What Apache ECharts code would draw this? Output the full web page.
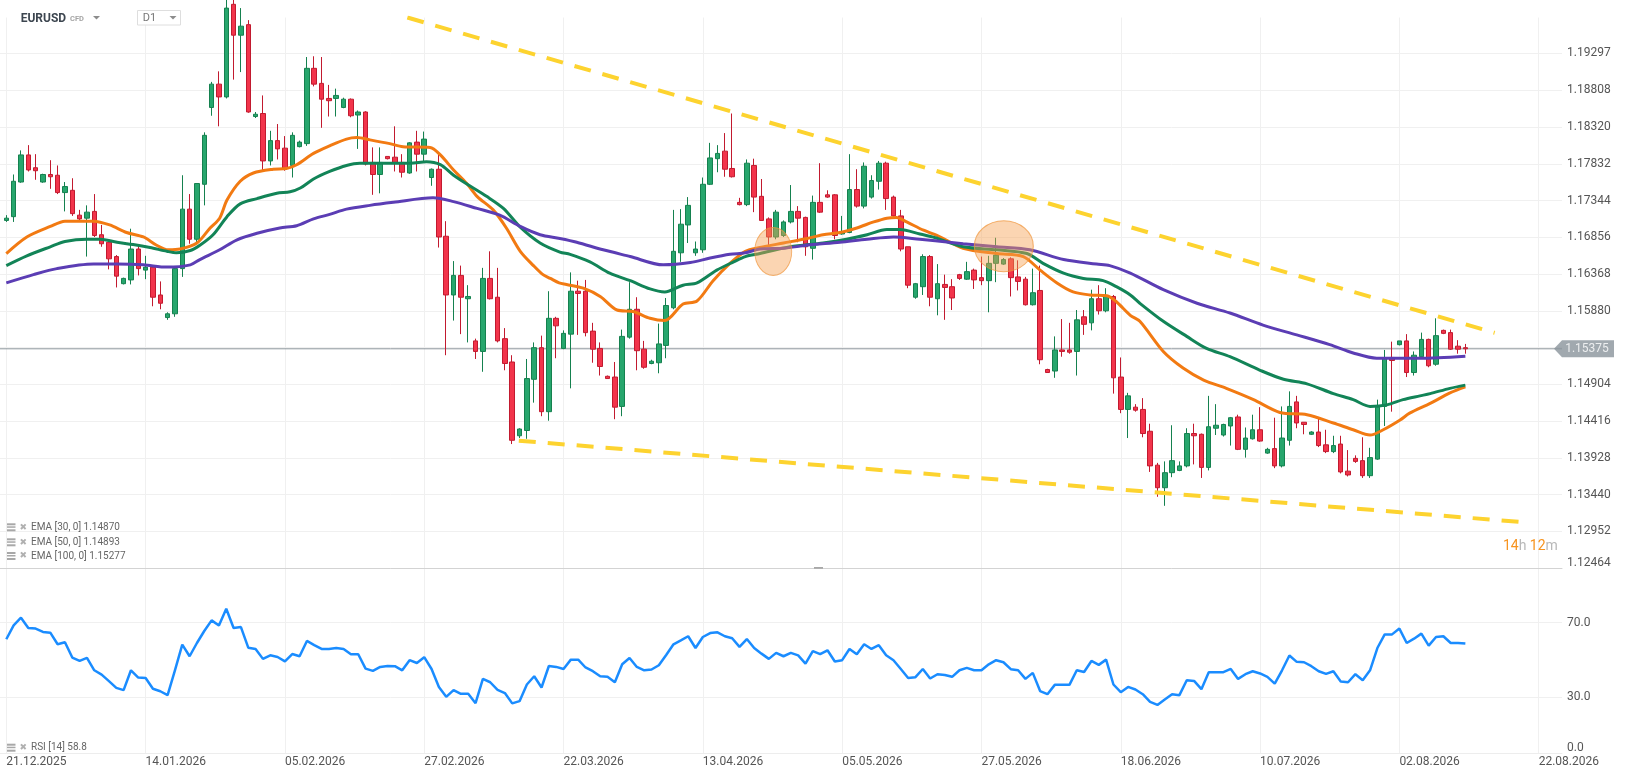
<!DOCTYPE html>
<html lang="en">
<head>
<meta charset="UTF-8">
<title>EURUSD D1</title>
<script src="https://cdn.jsdelivr.net/npm/echarts@6/dist/echarts.min.js"></script>
<style>
  html, body { margin: 0; padding: 0; background: #fff; }
  #main { width: 1626px; height: 779px; }
</style>
</head>
<body>
<div id="main"></div>
<script>
// daily candles, index 0 = first candle on the left
var opens = [
1.1708,1.1713,1.1759,1.1795,1.1778,1.1759,1.1769,1.1768,1.1745,1.1748,
1.1715,1.1711,1.1720,1.1689,1.1679,1.1660,1.1624,1.1629,1.1670,1.1642,
1.1646,1.1609,1.1579,1.1584,1.1644,1.1723,1.1683,1.1756,1.1858,1.1889,
1.1872,1.1995,1.1954,1.1968,1.1846,1.1850,1.1787,1.1814,1.1804,1.1781,
1.1806,1.1810,1.1910,1.1890,1.1870,1.1870,1.1858,1.1869,1.1848,1.1852,
1.1785,1.1769,1.1793,1.1792,1.1785,1.1771,1.1812,1.1796,1.1765,1.1776,
1.1687,1.1609,1.1635,1.1604,1.1548,1.1534,1.1631,1.1606,1.1551,1.1520,
1.1422,1.1429,1.1497,1.1539,1.1454,1.1578,1.1538,1.1557,1.1614,1.1614,
1.1561,1.1538,1.1501,1.1500,1.1461,1.1553,1.1590,1.1537,1.1518,1.1519,
1.1542,1.1592,1.1665,1.1702,1.1665,1.1669,1.1756,1.1790,1.1800,1.1777,
1.1732,1.1729,1.1781,1.1740,1.1710,1.1686,1.1688,1.1706,1.1720,1.1712,
1.1671,1.1732,1.1742,1.1742,1.1690,1.1692,1.1749,1.1727,1.1739,1.1760,
1.1784,1.1739,1.1714,1.1673,1.1606,1.1620,1.1660,1.1604,1.1623,1.1620,
1.1636,1.1630,1.1642,1.1632,1.1628,1.1651,1.1650,1.1657,1.1633,1.1630,
1.1596,1.1615,1.1510,1.1508,1.1536,1.1536,1.1534,1.1580,1.1572,1.1604,
1.1588,1.1607,1.1500,1.1457,1.1460,1.1457,1.1428,1.1383,1.1353,1.1373,
1.1376,1.1382,1.1425,1.1424,1.1380,1.1432,1.1423,1.1435,1.1447,1.1404,
1.1418,1.1430,1.1399,1.1405,1.1382,1.1416,1.1467,1.1440,1.1424,1.1427,
1.1410,1.1401,1.1411,1.1375,1.1392,1.1389,1.1369,1.1391,1.1461,1.1526,
1.1543,1.1548,1.1506,1.1527,1.1550,1.1517,1.1562,1.1559,1.1541,1.1539];

var closes = [
1.1711,1.1760,1.1795,1.1775,1.1774,1.1769,1.1766,1.1745,1.1753,1.1717,
1.1710,1.1719,1.1688,1.1677,1.1657,1.1634,1.1631,1.1670,1.1644,1.1646,
1.1606,1.1598,1.1584,1.1644,1.1723,1.1683,1.1757,1.1821,1.1889,1.1872,
1.1990,1.1954,1.1966,1.1852,1.1849,1.1787,1.1814,1.1803,1.1777,1.1821,
1.1812,1.1910,1.1889,1.1869,1.1867,1.1874,1.1869,1.1847,1.1852,1.1783,
1.1769,1.1785,1.1790,1.1785,1.1772,1.1811,1.1796,1.1816,1.1776,1.1686,
1.1609,1.1635,1.1606,1.1607,1.1534,1.1631,1.1604,1.1548,1.1518,1.1416,
1.1431,1.1498,1.1539,1.1454,1.1578,1.1568,1.1558,1.1614,1.1611,1.1559,
1.1537,1.1514,1.1498,1.1460,1.1554,1.1590,1.1535,1.1513,1.1521,1.1544,
1.1595,1.1667,1.1703,1.1728,1.1670,1.1756,1.1791,1.1797,1.1776,1.1766,
1.1729,1.1784,1.1739,1.1708,1.1686,1.1719,1.1706,1.1720,1.1711,1.1673,
1.1732,1.1719,1.1739,1.1688,1.1692,1.1749,1.1727,1.1780,1.1761,1.1784,
1.1737,1.1714,1.1670,1.1622,1.1624,1.1660,1.1606,1.1624,1.1619,1.1605,
1.1631,1.1640,1.1629,1.1628,1.1651,1.1662,1.1656,1.1632,1.1627,1.1596,
1.1612,1.1523,1.1506,1.1536,1.1534,1.1533,1.1576,1.1570,1.1604,1.1588,
1.1607,1.1499,1.1457,1.1475,1.1456,1.1425,1.1382,1.1353,1.1373,1.1389,
1.1382,1.1425,1.1422,1.1380,1.1434,1.1436,1.1437,1.1446,1.1404,1.1419,
1.1430,1.1415,1.1404,1.1382,1.1419,1.1461,1.1439,1.1437,1.1427,1.1409,
1.1401,1.1409,1.1374,1.1370,1.1388,1.1369,1.1393,1.1460,1.1525,1.1522,
1.1548,1.1506,1.1529,1.1550,1.1515,1.1555,1.1558,1.1537,1.1537,1.15375];

var highs = [
1.1715,1.1769,1.1801,1.1808,1.1796,1.1770,1.1788,1.1781,1.1759,1.1764,
1.1722,1.1728,1.1743,1.1702,1.1683,1.1662,1.1632,1.1697,1.1675,1.1661,
1.1647,1.1627,1.1586,1.1647,1.1768,1.1743,1.1757,1.1825,1.1892,1.1906,
1.2005,1.2010,1.1990,1.1974,1.1852,1.1874,1.1827,1.1836,1.1820,1.1825,
1.1814,1.1925,1.1926,1.1925,1.1888,1.1883,1.1871,1.1870,1.1854,1.1853,
1.1805,1.1805,1.1793,1.1833,1.1796,1.1812,1.1827,1.1826,1.1777,1.1796,
1.1707,1.1654,1.1648,1.1622,1.1551,1.1645,1.1667,1.1645,1.1565,1.1529,
1.1432,1.1524,1.1546,1.1555,1.1614,1.1580,1.1562,1.1639,1.1628,1.1629,
1.1572,1.1546,1.1502,1.1520,1.1563,1.1626,1.1606,1.1548,1.1523,1.1571,
1.1605,1.1722,1.1723,1.1739,1.1680,1.1765,1.1811,1.1808,1.1824,1.1850,
1.1738,1.1789,1.1790,1.1763,1.1712,1.1722,1.1708,1.1755,1.1727,1.1713,
1.1741,1.1784,1.1748,1.1743,1.1714,1.1796,1.1776,1.1785,1.1768,1.1787,
1.1786,1.1741,1.1722,1.1673,1.1625,1.1663,1.1662,1.1650,1.1636,1.1630,
1.1637,1.1653,1.1644,1.1660,1.1661,1.1685,1.1658,1.1659,1.1655,1.1633,
1.1644,1.1648,1.1511,1.1554,1.1577,1.1572,1.1589,1.1589,1.1616,1.1622,
1.1618,1.1609,1.1526,1.1479,1.1464,1.1472,1.1438,1.1386,1.1388,1.1436,
1.1388,1.1432,1.1438,1.1425,1.1475,1.1464,1.1438,1.1447,1.1450,1.1433,
1.1450,1.1460,1.1406,1.1446,1.1461,1.1481,1.1475,1.1440,1.1428,1.1447,
1.1430,1.1422,1.1422,1.1403,1.1396,1.1420,1.1406,1.1470,1.1536,1.1547,
1.1548,1.1557,1.1534,1.1559,1.1551,1.1578,1.1563,1.1563,1.1549,1.1544];

var lows = [
1.1706,1.1706,1.1758,1.1773,1.1762,1.1758,1.1750,1.1743,1.1720,1.1714,
1.1707,1.1660,1.1686,1.1673,1.1643,1.1619,1.1623,1.1623,1.1635,1.1630,
1.1594,1.1590,1.1576,1.1580,1.1633,1.1677,1.1679,1.1728,1.1847,1.1833,
1.1870,1.1895,1.1905,1.1851,1.1844,1.1775,1.1781,1.1789,1.1774,1.1765,
1.1805,1.1807,1.1886,1.1831,1.1846,1.1846,1.1857,1.1845,1.1803,1.1781,
1.1742,1.1744,1.1789,1.1773,1.1765,1.1770,1.1773,1.1786,1.1754,1.1672,
1.1529,1.1575,1.1557,1.1546,1.1524,1.1507,1.1603,1.1546,1.1509,1.1411,
1.1419,1.1418,1.1466,1.1448,1.1442,1.1525,1.1537,1.1485,1.1556,1.1554,
1.1519,1.1502,1.1498,1.1444,1.1448,1.1551,1.1509,1.1511,1.1517,1.1505,
1.1525,1.1590,1.1653,1.1678,1.1661,1.1665,1.1755,1.1772,1.1766,1.1765,
1.1728,1.1727,1.1719,1.1708,1.1675,1.1683,1.1686,1.1704,1.1679,1.1661,
1.1656,1.1718,1.1738,1.1683,1.1689,1.1691,1.1725,1.1724,1.1737,1.1749,
1.1722,1.1713,1.1667,1.1618,1.1604,1.1609,1.1594,1.1582,1.1576,1.1589,
1.1629,1.1629,1.1617,1.1622,1.1586,1.1626,1.1649,1.1607,1.1615,1.1595,
1.1595,1.1517,1.1506,1.1499,1.1527,1.1531,1.1502,1.1556,1.1562,1.1583,
1.1586,1.1478,1.1452,1.1419,1.1454,1.1420,1.1374,1.1341,1.1329,1.1367,
1.1375,1.1380,1.1384,1.1366,1.1376,1.1423,1.1421,1.1409,1.1403,1.1393,
1.1417,1.1414,1.1398,1.1379,1.1380,1.1409,1.1432,1.1424,1.1423,1.1407,
1.1399,1.1399,1.1372,1.1368,1.1386,1.1366,1.1366,1.1390,1.1435,1.1454,
1.1542,1.1500,1.1502,1.1525,1.1513,1.1515,1.1557,1.1536,1.1531,1.1531];

// EMA lines: [candle index, value]
var ema30 = [[0,1.1664],[2.8,1.1686],[6,1.1700],[8,1.1707],[11.9,1.1707],[14.1,1.1702],[16.4,1.1692],[18.7,1.1686],[20.5,1.1675],[22.1,1.1669],[23.7,1.1670],[26,1.1678],[27.8,1.1698],[29.1,1.1711],[30.1,1.1735],[31.9,1.1760],[33.7,1.1771],[36.4,1.1776],[38.2,1.1777],[39.6,1.1782],[41.9,1.1797],[44.1,1.1807],[46.4,1.1816],[47.8,1.1818],[49.6,1.1815],[52.3,1.1810],[54.1,1.1806],[57.8,1.1805],[59.2,1.1795],[61,1.1775],[62.8,1.1757],[64.2,1.1740],[66.4,1.1722],[68.2,1.1698],[70.1,1.1667],[71.9,1.1648],[73.2,1.1636],[74.2,1.1631],[75.4,1.1625],[76.4,1.1623],[78.7,1.1618],[81,1.1607],[83.3,1.1589],[85.5,1.1587],[87.8,1.1578],[89.8,1.1575],[92.3,1.1597],[94.2,1.1601],[96.4,1.1628],[98.7,1.1651],[100.8,1.1667],[102.8,1.1672],[106,1.1678],[109.2,1.1684],[111.4,1.1689],[113.7,1.1692],[116,1.1698],[118.3,1.1706],[120.1,1.1711],[121.4,1.1712],[122.8,1.1706],[125.1,1.1695],[127.4,1.1686],[130.5,1.1671],[135.1,1.1664],[138.7,1.1660],[141,1.1642],[143.3,1.1625],[145.5,1.1613],[147.8,1.1609],[150.1,1.1608],[151.4,1.1600],[153.3,1.1582],[154.6,1.1574],[157.8,1.1534],[160.5,1.1512],[163.3,1.1496],[166.4,1.1485],[170.1,1.1470],[173.7,1.1453],[177.4,1.1450],[181,1.1439],[183.7,1.1430],[186,1.1423],[187.8,1.1430],[190.1,1.1443],[191.4,1.1452],[194.2,1.1465],[196.9,1.1479],[199,1.1487]];
var ema50 = [[0,1.1648],[2.8,1.1661],[6,1.1673],[8,1.1680],[11,1.1683],[12.8,1.1683],[15.1,1.1679],[17.3,1.1676],[19.6,1.1672],[21.9,1.1667],[23.2,1.1665],[25.1,1.1668],[26.4,1.1675],[28.2,1.1689],[30.1,1.1713],[31.9,1.1730],[34.2,1.1737],[36.9,1.1744],[38.7,1.1746],[40.1,1.1751],[41.9,1.1763],[44.1,1.1773],[46.4,1.1781],[48.2,1.1784],[49.6,1.1784],[52.8,1.1784],[55.1,1.1784],[57.3,1.1786],[59.2,1.1782],[61,1.1768],[63.2,1.1754],[65.5,1.1740],[67.8,1.1724],[70.1,1.1699],[72.8,1.1678],[75.5,1.1666],[76.9,1.1663],[79.6,1.1653],[82.3,1.1638],[85.1,1.1628],[87.8,1.1617],[89.8,1.1613],[92.3,1.1622],[94.2,1.1625],[96.9,1.1642],[99.2,1.1653],[100.8,1.1660],[102.8,1.1664],[106.9,1.1673],[111.4,1.1678],[114.6,1.1683],[117.4,1.1689],[120.1,1.1696],[121.9,1.1696],[124.6,1.1690],[126.7,1.1685],[130.5,1.1673],[135.1,1.1669],[139.2,1.1664],[141.4,1.1651],[144.2,1.1638],[146.9,1.1631],[149.6,1.1628],[151.4,1.1620],[153.3,1.1609],[154.6,1.1598],[157.8,1.1574],[161,1.1554],[163.7,1.1538],[166.9,1.1527],[171,1.1509],[174.2,1.1497],[177.4,1.1491],[181,1.1478],[183.7,1.1470],[186,1.1461],[188.3,1.1463],[190.5,1.1470],[192.8,1.1475],[194.2,1.1478],[196.9,1.1485],[199,1.14893]];
var ema100 = [[0,1.1625],[3.7,1.1636],[6.9,1.1644],[11.9,1.1650],[15.1,1.1650],[18.7,1.1649],[21.9,1.1646],[25.1,1.1649],[26.4,1.1656],[29.1,1.1669],[31.4,1.1682],[34.2,1.1691],[37.3,1.1698],[39.6,1.1701],[41.9,1.1710],[44.1,1.1716],[46.4,1.1723],[49.6,1.1728],[52.8,1.1732],[58.2,1.1738],[61,1.1733],[64.2,1.1724],[67.3,1.1715],[70.1,1.1700],[72.8,1.1689],[75.5,1.1684],[77.8,1.1679],[81.4,1.1669],[85.1,1.1660],[89.6,1.1649],[93.3,1.1652],[96,1.1658],[98.7,1.1663],[100.8,1.1665],[102.8,1.1670],[106,1.1671],[109.2,1.1675],[113.7,1.1679],[117.4,1.1683],[121,1.1686],[124.6,1.1683],[126.7,1.1681],[130.5,1.1677],[135.1,1.1673],[139.6,1.1669],[144.2,1.1656],[148.7,1.1650],[150.5,1.1648],[153.3,1.1638],[157.8,1.1616],[162.4,1.1598],[166.9,1.1585],[171.4,1.1569],[176,1.1556],[180.5,1.1543],[183.7,1.1532],[186.9,1.1525],[192.8,1.1525],[199,1.15277]];

// RSI(14), one value per candle
var rsi = [
61.1,68.5,72.6,67.1,66.8,65.0,64.6,58.4,59.5,51.3,
49.5,51.1,44.5,42.2,38.7,35.1,33.9,44.5,40.6,40.4,
34.6,33.3,31.2,44.5,58.2,52.0,59.1,65.5,71.2,68.5,
77.4,67.1,67.6,56.6,55.9,50.6,52.5,51.6,49.3,53.2,
52.0,60.2,58.0,55.9,55.9,56.4,55.9,53.1,53.1,45.4,
44.2,46.3,46.8,46.7,44.5,49.9,48.4,51.5,45.2,35.6,
30.3,33.9,31.9,31.9,26.9,39.9,38.1,34.0,32.3,26.8,
28.0,36.9,41.3,35.3,46.8,46.3,45.2,50.2,50.2,46.0,
44.0,41.3,41.0,38.1,47.7,51.1,46.3,44.5,44.9,47.2,
52.7,58.4,60.5,62.7,56.4,62.3,64.4,64.8,62.7,61.6,
57.0,61.2,56.4,53.4,50.6,53.8,52.0,53.8,52.5,48.1,
54.8,53.1,55.2,49.2,49.9,55.9,53.1,58.4,55.9,57.9,
52.5,49.9,45.2,40.4,40.8,45.2,40.1,42.4,42.0,41.0,
44.5,45.8,44.5,44.5,47.7,49.9,48.8,45.1,44.5,39.9,
43.1,33.4,31.7,36.7,36.7,36.7,44.5,43.6,49.5,47.4,
50.2,36.9,32.8,35.6,34.2,31.7,27.6,26.0,28.9,31.7,
31.2,39.2,38.8,34.4,43.5,43.5,43.5,45.2,39.9,42.4,
44.0,42.8,41.0,37.4,44.5,52.4,49.0,48.8,46.7,44.0,
42.6,44.0,38.5,38.1,42.4,39.2,44.5,56.4,63.7,63.7,
66.8,59.1,61.4,64.1,57.7,62.3,62.7,59.1,59.1,58.8];

// drawn trend lines and highlight circles: [candle index, price]
var upperTrend = [[54.7, 1.19775], [203.0, 1.15587]];
var lowerTrend = [[69.9, 1.14155], [207.5, 1.13067]];
var circleCenters = [[104.6, 1.16668], [136.05, 1.16738]];

// axis ticks
var xTicks = [0, 19, 38, 57, 76, 95, 114, 133, 152, 171, 190, 209];
var dateLabels = ['21.12.2025', '14.01.2026', '05.02.2026', '27.02.2026', '22.03.2026', '13.04.2026',
                  '05.05.2026', '27.05.2026', '18.06.2026', '10.07.2026', '02.08.2026', '22.08.2026'];
var yTicks = [1.12464, 1.12952, 1.13440, 1.13928, 1.14416, 1.14904, 1.15392, 1.15880,
              1.16368, 1.16856, 1.17344, 1.17832, 1.18320, 1.18808, 1.19297];
var hiddenYTick = 1.15392; // covered by the price tag
var rsiTicks = [0, 30, 70];

var FONT = 'Roboto, "Noto Sans", Arial, sans-serif';
var xMin = -0.86, xMax = 212.18;
var yMin = 1.12464, yMax = 1.19775;

var candleData = opens.map(function (o, i) { return [i, o, closes[i], lows[i], highs[i]]; });
var rsiData = rsi.map(function (v, i) { return [i, v]; });
var lastClose = closes[closes.length - 1];

function legendRow(y, text) {
    return [
        {type: 'rect', shape: {x: 7, y: y - 4, width: 8.5, height: 2}, style: {fill: '#a8a8a8'}},
        {type: 'rect', shape: {x: 7, y: y - 1, width: 8.5, height: 1.5}, style: {fill: '#a8a8a8'}},
        {type: 'rect', shape: {x: 7, y: y + 2, width: 8.5, height: 2}, style: {fill: '#a8a8a8'}},
        {type: 'text', x: 19.5, y: y, style: {text: '\u2716', fill: '#b0b0b0', font: '9px "DejaVu Sans"', verticalAlign: 'middle'}},
        {type: 'text', x: 31, y: y, style: {text: text, fill: '#666', font: '10px ' + FONT, verticalAlign: 'middle'}}
    ];
}

var graphics = [
    {type: 'text', x: 20.7, y: 18.5, style: {text: 'EURUSD', fill: '#3d4650', font: 'bold 12px ' + FONT, verticalAlign: 'middle'}},
    {type: 'text', x: 70, y: 19.5, style: {text: 'CFD', fill: '#a5a5a5', font: 'bold 7.5px ' + FONT, verticalAlign: 'middle'}},
    {type: 'polygon', shape: {points: [[93, 16], [100, 16], [96.5, 19.5]]}, style: {fill: '#8c8c8c'}},
    {type: 'rect', shape: {x: 137.5, y: 10.5, width: 43, height: 14.5}, style: {fill: '#fff', stroke: '#dedede', lineWidth: 1}},
    {type: 'text', x: 142.7, y: 18, style: {text: 'D1', fill: '#777', font: '11px ' + FONT, verticalAlign: 'middle'}},
    {type: 'polygon', shape: {points: [[169.5, 16], [176.5, 16], [173, 19.5]]}, style: {fill: '#8c8c8c'}},
    {type: 'rect', shape: {x: 814, y: 567, width: 9, height: 1.8}, style: {fill: '#a8a8a8'}},
    {type: 'text', x: 1503, y: 546.7, style: {
        text: '{o|14}{g|h} {o|12}{g|m}', verticalAlign: 'middle',
        rich: {o: {fill: '#f7931e', fontSize: 14, fontFamily: FONT}, g: {fill: '#b8b8b8', fontSize: 14, fontFamily: FONT}}
    }}
]
.concat(legendRow(527.3, 'EMA [30, 0] ' + ema30[ema30.length - 1][1].toFixed(5)))
.concat(legendRow(542.3, 'EMA [50, 0] ' + ema50[ema50.length - 1][1].toFixed(5)))
.concat(legendRow(556, 'EMA [100, 0] ' + ema100[ema100.length - 1][1].toFixed(5)))
.concat(legendRow(747.7, 'RSI [14] ' + rsi[rsi.length - 1].toFixed(1)));

var chart = echarts.init(document.getElementById('main'));

var option = {
    animation: false,
    backgroundColor: '#fff',
    graphic: {elements: graphics.map(function (g) { g.silent = true; g.z = 100; return g; })},
    grid: [
        {left: 0, right: 64, top: 17.5, bottom: 211, outerBoundsMode: 'none'},
        {left: 0, right: 64, top: 566.5, bottom: 25.5, outerBoundsMode: 'none'}
    ],
    xAxis: [
        {
            type: 'value', gridIndex: 0, min: xMin, max: xMax,
            axisLine: {show: true, lineStyle: {color: '#d3d3d3', width: 1}},
            axisTick: {show: false, customValues: xTicks},
            axisLabel: {show: false, customValues: xTicks},
            splitLine: {show: true, lineStyle: {color: '#f0f0f0', width: 1}}
        },
        {
            type: 'value', gridIndex: 1, min: xMin, max: xMax,
            axisLine: {show: true, lineStyle: {color: '#ededed', width: 1}},
            axisTick: {show: false, customValues: xTicks},
            axisLabel: {
                customValues: xTicks, align: 'left', margin: 2,
                color: '#555', fontSize: 12, fontFamily: FONT,
                formatter: function (v) {
                    var i = xTicks.indexOf(Math.round(v));
                    return i >= 0 ? dateLabels[i] : '';
                }
            },
            splitLine: {show: true, lineStyle: {color: '#f0f0f0', width: 1}}
        }
    ],
    yAxis: [
        {
            type: 'value', gridIndex: 0, position: 'right', min: yMin, max: yMax,
            axisLine: {show: false},
            axisTick: {show: false, customValues: yTicks},
            axisLabel: {
                customValues: yTicks, margin: 5, color: '#555', fontSize: 12, fontFamily: FONT,
                formatter: function (v) {
                    if (Math.abs(v - hiddenYTick) < 1e-6) return '';
                    var s = v.toFixed(5);
                    return Math.abs(v - yTicks[0]) < 1e-6 ? '{lo|' + s + '}' : s;
                },
                rich: {lo: {padding: [0, 0, 10, 0], color: '#555', fontSize: 12, fontFamily: FONT}}
            },
            splitLine: {show: true, lineStyle: {color: '#f0f0f0', width: 1}}
        },
        {
            type: 'value', gridIndex: 1, position: 'right', min: 0, max: 100,
            axisLine: {show: false},
            axisTick: {show: false, customValues: rsiTicks},
            axisLabel: {
                customValues: rsiTicks, margin: 5, color: '#555', fontSize: 12, fontFamily: FONT,
                formatter: function (v) {
                    var s = v.toFixed(1);
                    return v === 0 ? '{lo|' + s + '}' : s;
                },
                rich: {lo: {padding: [0, 0, 12, 0], color: '#555', fontSize: 12, fontFamily: FONT}}
            },
            splitLine: {show: true, lineStyle: {color: '#f0f0f0', width: 1}}
        }
    ],
    series: [
        // current price line across the plot
        {type: 'line', name: 'last price', data: [[xMin, lastClose], [xMax, lastClose]], showSymbol: false,
         silent: true, z: 1, lineStyle: {color: '#8d969c', width: 1}},
        {
            type: 'candlestick', name: 'EURUSD', xAxisIndex: 0, yAxisIndex: 0,
            data: candleData, barWidth: 5, silent: true, z: 2,
            itemStyle: {color: '#27a66d', color0: '#f2344b', borderColor: '#15814f', borderColor0: '#c21a2f', borderWidth: 1}
        },
        {type: 'line', name: 'EMA 30', data: ema30, showSymbol: false, smooth: 0.3, silent: true, z: 3,
         lineStyle: {color: '#f27a12', width: 3}},
        {type: 'line', name: 'EMA 50', data: ema50, showSymbol: false, smooth: 0.3, silent: true, z: 3,
         lineStyle: {color: '#128457', width: 3}},
        {type: 'line', name: 'EMA 100', data: ema100, showSymbol: false, smooth: 0.3, silent: true, z: 3,
         lineStyle: {color: '#5b3db4', width: 3}},
        {type: 'line', name: 'upper trend', data: upperTrend, showSymbol: false, silent: true, z: 4,
         lineStyle: {color: '#fdd32f', width: 4, type: [17, 12]}},
        {type: 'line', name: 'lower trend', data: lowerTrend, showSymbol: false, silent: true, z: 4,
         lineStyle: {color: '#fdd32f', width: 4, type: [17, 12]}},
        {
            type: 'scatter', name: 'highlight', silent: true, z: 5,
            data: [{value: circleCenters[0], symbolSize: [37, 48]}, {value: circleCenters[1], symbolSize: [59, 51]}],
            itemStyle: {color: 'rgba(245,160,80,0.55)', borderColor: 'rgba(240,150,60,0.9)', borderWidth: 1}
        },
        {
            type: 'scatter', name: 'price tag', silent: true, z: 10, clip: false,
            data: [[xMax, lastClose]],
            symbol: 'path://M0,8L8,0H60V16H8Z', symbolSize: [60, 17], symbolOffset: [22, 0],
            itemStyle: {color: '#8a949b'},
            label: {show: true, position: 'inside', offset: [3, 0], color: '#fff', fontSize: 12, fontFamily: FONT,
                    formatter: function (p) { return p.value[1].toFixed(5); }}
        },
        {type: 'line', name: 'RSI', xAxisIndex: 1, yAxisIndex: 1, data: rsiData, showSymbol: false, silent: true,
         lineStyle: {color: '#1a8cff', width: 2.5}}
    ]
};

chart.setOption(option);
</script>
</body>
</html>
